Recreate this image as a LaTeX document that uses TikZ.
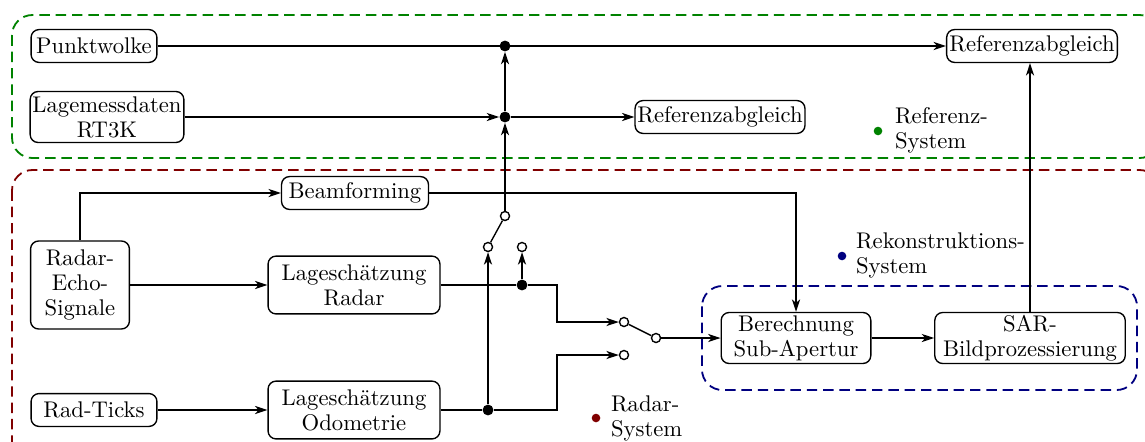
\documentclass[tikz,border=0pt]{standalone}
\usepackage{tikz}
\usetikzlibrary{arrows.meta}
\definecolor{refgreen}{RGB}{0,130,0}
\definecolor{radred}{RGB}{128,0,0}
\definecolor{rekblue}{RGB}{0,0,128}

\begin{document}
\begin{tikzpicture}[x=0.0155cm, y=-0.0155cm,
  box/.style={draw, semithick, rounded corners=3.5pt, align=center, inner sep=1pt,
    font=\fontsize{10}{11}\selectfont},
  pfeil/.style={semithick, -{Stealth[length=5.5pt, width=3.6pt, inset=1.6pt]}},
  kontakt/.style={circle, draw, fill=white, semithick, inner sep=0pt, minimum size=4pt},
  punkt/.style={circle, fill, inner sep=0pt, minimum size=4.8pt},
  lgpunkt/.style={circle, fill, inner sep=0pt, minimum size=3.8pt},
  lgtext/.style={anchor=west, align=left, font=\fontsize{10}{11}\selectfont},
  sys/.style={thick, dash pattern=on 4.6pt off 2.6pt, rounded corners=9pt}]
\useasboundingbox (0,0) rectangle (1145,441);

% systeme
\draw[sys, refgreen] (12,15) rectangle (1160,158);
\draw[sys, radred] (12,170) rectangle (1160,470);
\draw[sys, rekblue] (702,286) rectangle (1137,390);

% referenz
\node[box, minimum width=55.5pt, minimum height=14.5pt] (pw) at (94,46) {Punktwolke};
\node[box, minimum width=67.4pt, minimum height=22.5pt] (lm) at (107,117) {Lagemessdaten\\RT3K};
\node[box, minimum width=75.3pt, minimum height=14.5pt] (ref1) at (1032,46) {Referenzabgleich};
\node[box, minimum width=74.4pt, minimum height=14.5pt] (ref2) at (720,117) {Referenzabgleich};
\node[punkt] (j1) at (505,46) {};
\node[punkt] (j2) at (505,117) {};

% radar
\node[box, minimum width=43.6pt, minimum height=38.8pt] (re) at (80,285) {Radar-\\Echo-\\Signale};
\node[box, minimum width=64.8pt, minimum height=14.5pt] (bf) at (355,193) {Beamforming};
\node[box, minimum width=75.8pt, minimum height=25.5pt] (lr) at (354,285) {Lagesch\"atzung\\Radar};
\node[box, minimum width=55.5pt, minimum height=14.5pt] (rt) at (94,410) {Rad-Ticks};
\node[box, minimum width=75.8pt, minimum height=25.5pt] (lo) at (354,410) {Lagesch\"atzung\\Odometrie};
\node[punkt] (j3) at (522,285) {};
\node[punkt] (j4) at (488,410) {};

% schalter
\node[kontakt] (s1p) at (505,216) {};
\node[kontakt] (s1a) at (488,247) {};
\node[kontakt] (s1b) at (522,247) {};
\node[kontakt] (s2a) at (624,322) {};
\node[kontakt] (s2b) at (624,355) {};
\node[kontakt] (s2p) at (656,338) {};

% rekonstruktion
\node[box, minimum width=66pt, minimum height=22.5pt] (be) at (796,338) {Berechnung\\Sub-Apertur};
\node[box, minimum width=84pt, minimum height=22.5pt] (sar) at (1030,338) {SAR-\\Bildprozessierung};

% legende
\node[lgpunkt, refgreen] (gp) at (878,131) {};
\node[lgtext] (gl) at (887,130) {Referenz-\\System};
\node[lgpunkt, rekblue] (bp) at (842,256) {};
\node[lgtext] (bl) at (848,255) {Rekonstruktions-\\System};
\node[lgpunkt, radred] (rp) at (596,418) {};
\node[lgtext] (rl) at (603,418) {Radar-\\System};

% verbindungen
\draw[pfeil] (pw) -- (ref1);
\draw[pfeil] (lm) -- (j2);
\draw[pfeil] (j2) -- (ref2);
\draw[pfeil] (s1p) -- (j2);
\draw[pfeil] (j2) -- (j1);
\draw[semithick] (s1a) -- (s1p);
\draw[pfeil] (re.north) |- (bf);
\draw[pfeil] (bf) -| (be);
\draw[pfeil] (re) -- (lr);
\draw[pfeil] (rt) -- (lo);
\draw[semithick] (lr) -- (j3);
\draw[pfeil] (j3) -- (s1b);
\draw[pfeil] (j3) -- ++(35,0) |- (s2a);
\draw[semithick] (lo) -- (j4);
\draw[pfeil] (j4) -- (s1a);
\draw[pfeil] (j4) -- ++(69,0) |- (s2b);
\draw[semithick] (s2a) -- (s2p);
\draw[pfeil] (s2p) -- (be);
\draw[pfeil] (be) -- (sar);
\draw[pfeil] (sar) -- (sar |- ref1.south);

\end{tikzpicture}
\end{document}
